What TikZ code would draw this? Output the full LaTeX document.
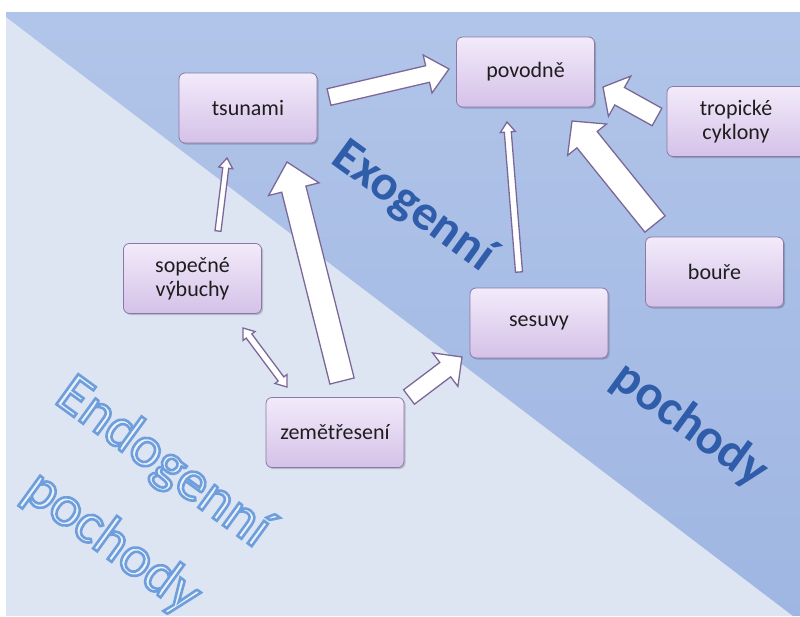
\documentclass[tikz,border=0pt]{standalone}
\usepackage{fontspec}
\setmainfont{Carlito}
\usetikzlibrary{calc}
\definecolor{bglight}{HTML}{DDE5F3}
\definecolor{bgdiag}{HTML}{97B0E0}
\definecolor{bgtop}{HTML}{C4D3EF}
\definecolor{boxtop}{HTML}{F2EBFA}
\definecolor{boxbot}{HTML}{D5C1E8}
\definecolor{boxborder}{HTML}{8A78A6}
\definecolor{arrborder}{HTML}{7C6898}
\definecolor{exoblue}{HTML}{2F5DA9}
\definecolor{endofill}{HTML}{EAF1FB}
\definecolor{labeltext}{HTML}{1E1E1E}
% outlined text: fill in current colour, stroke in light blue
\newcommand\outlined[1]{\special{pdf:code 2 Tr 2.6 w 0.43 0.62 0.86 RG}#1\special{pdf:code 0 Tr}}
\tikzset{
  box/.style={draw=boxborder, line width=0.8pt, rounded corners=6pt,
    top color=boxtop, bottom color=boxbot,
    minimum width=138pt, minimum height=70pt, align=center,
    font=\fontsize{22}{24}\selectfont, text=labeltext,
    preaction={fill=black, opacity=0.18, transform canvas={shift={(1.5,1.5)}}}},
  blockarr/.style={draw=arrborder, fill=white, line width=1.3pt, line join=miter},
  exotext/.style={rotate=-36, font=\fontsize{50}{50}\selectfont\bfseries, text=exoblue},
  endotext/.style={rotate=-36, font=\fontsize{58}{58}\selectfont, text=endofill},
}
\newcommand\onearrow[5]{%
  \coordinate (baseA) at ($(#2)!#5!(#1)$);
  \draw[blockarr] ($(#1)!#3!90:(#2)$) -- ($(baseA)!#3!90:(#2)$) -- ($(baseA)!#4!90:(#2)$) -- (#2)
    -- ($(baseA)!#4!-90:(#2)$) -- ($(baseA)!#3!-90:(#2)$) -- ($(#1)!#3!-90:(#2)$) -- cycle;}
\newcommand\twoarrow[5]{%
  \coordinate (baseA) at ($(#1)!#5!(#2)$);
  \coordinate (baseB) at ($(#2)!#5!(#1)$);
  \draw[blockarr] (#1) -- ($(baseA)!#4!90:(#2)$) -- ($(baseA)!#3!90:(#2)$)
    -- ($(baseB)!#3!-90:(#1)$) -- ($(baseB)!#4!-90:(#1)$) -- (#2)
    -- ($(baseB)!#4!90:(#1)$) -- ($(baseB)!#3!90:(#1)$)
    -- ($(baseA)!#3!-90:(#2)$) -- ($(baseA)!#4!-90:(#2)$) -- cycle;}
\begin{document}
\begin{tikzpicture}[x=1pt, y=-1pt]
\useasboundingbox (0,0) rectangle (800,616);
% background
\fill[bglight] (6,12) rectangle (800,616);
\begin{scope}
  \clip (6,12) -- (800,12) -- (800,616) -- (793,616) -- (6,17) -- cycle;
  \begin{scope}[shift={(6,17)}, rotate=-37.27]
    \shade[top color=bgtop, bottom color=bgdiag] (-60,242) rectangle (1100,-727);
  \end{scope}
\end{scope}
% word art
\node[exotext] (exo1) at (413,207) {Exogenní};
\node[exotext] (exo2) at (690,425) {pochody};
\node[endotext] (endo1) at (163,463) {\outlined{Endogenní}};
\node[endotext] (endo2) at (112,543) {\outlined{pochody}};
% boxes
\node[box] (tsunami) at (248,108) {tsunami};
\node[box] (povodne) at (525.5,72) {povodně};
\node[box] (tropicke) at (736,121.5) {tropické\\cyklony};
\node[box] (boure) at (714.5,272) {bouře};
\node[box] (sopecne) at (192.5,278.5) {sopečné\\výbuchy};
\node[box] (zeme) at (335,432.5) {zemětřesení};
\node[box] (sesuvy) at (539,323) {sesuvy};
% arrow end points
\coordinate (a1s) at (329,97);  \coordinate (a1e) at (449,69);
\coordinate (a2s) at (218,231); \coordinate (a2e) at (227,158);
\coordinate (a3s) at (342,381); \coordinate (a3e) at (287,162);
\coordinate (a4s) at (243,328); \coordinate (a4e) at (287,387);
\coordinate (a5s) at (409,397); \coordinate (a5e) at (462,357);
\coordinate (a6s) at (519,272); \coordinate (a6e) at (507,122);
\coordinate (a7s) at (655,224); \coordinate (a7e) at (572,121);
\coordinate (a8s) at (657,117); \coordinate (a8e) at (603,87);
% arrows
\onearrow{a1s}{a1e}{8.5pt}{19.5pt}{22pt}
\onearrow{a2s}{a2e}{3pt}{7pt}{10pt}
\onearrow{a3s}{a3e}{12.5pt}{26pt}{28pt}
\twoarrow{a4s}{a4e}{3.5pt}{7.5pt}{10pt}
\onearrow{a5s}{a5e}{9pt}{21pt}{21pt}
\onearrow{a6s}{a6e}{3.5pt}{7.5pt}{10pt}
\onearrow{a7s}{a7e}{13pt}{25pt}{24pt}
\onearrow{a8s}{a8e}{10pt}{23pt}{19pt}
\end{tikzpicture}
\end{document}
